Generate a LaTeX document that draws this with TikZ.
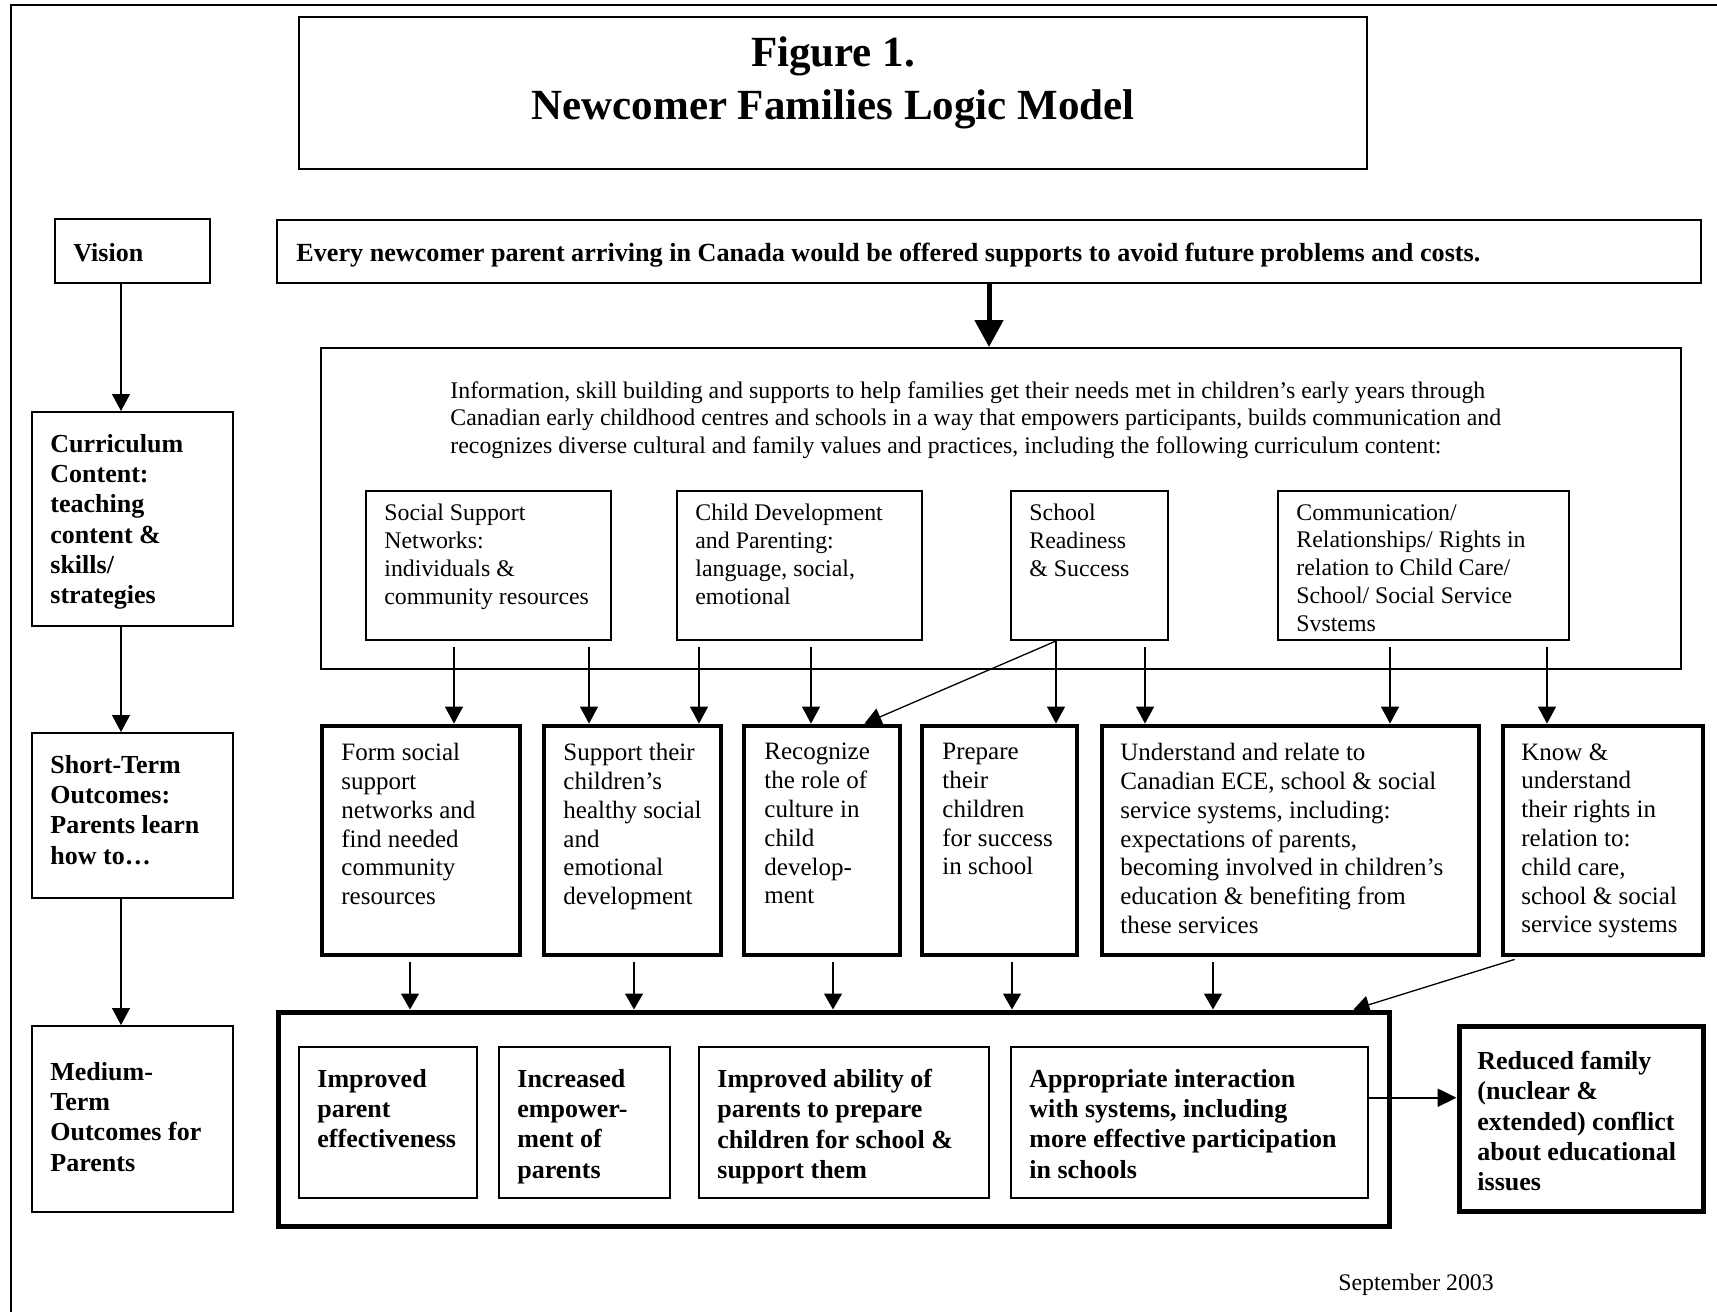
\documentclass[tikz,border=0pt]{standalone}
\usepackage{fontspec}
\setmainfont{Liberation Serif}
\usetikzlibrary{arrows.meta,fit,calc}
\begin{document}
\begin{tikzpicture}[x=0.5pt,y=-0.5pt,
  thinbox/.style={draw, line width=1pt, inner sep=0pt},
  thickbox/.style={draw, line width=2.4pt, inner sep=0pt},
  arr/.style={line width=0.65pt, -{Triangle[length=8.5pt,width=9pt]}},
  arrs/.style={line width=0.65pt, -{Triangle[length=8pt,width=9pt]}},
  bigarr/.style={line width=2.5pt, -{Triangle[length=13.5pt,width=14pt]}},
  midarr/.style={line width=1.2pt, -{Triangle[length=9.5pt,width=9pt]}},
  txt/.style={inner sep=0pt, anchor=north west, align=left, font=\fontsize{11.92}{13.9}\selectfont},
  sttxt/.style={inner sep=0pt, anchor=north west, align=left, font=\fontsize{12.5}{14.4}\selectfont},
  lbl/.style={inner sep=0pt, anchor=north west, align=left, font=\bfseries\fontsize{13}{15.1}\selectfont},
  titletxt/.style={inner sep=0pt, anchor=north, align=center, font=\bfseries\fontsize{21.5}{26.8}\selectfont}
]
\useasboundingbox (0,0) rectangle (1717,1312);
% outer frame
\draw[line width=1.3pt] (11,1312) -- (11,5) -- (1717,5);

% title
\node[thinbox, fit={(299,17)(1367,169)}] (title) {};
\node[titletxt] (tt) at (833,36) {Figure 1.\\Newcomer Families Logic Model};

% left column
\node[thinbox, fit={(55,219)(210,283)}] (vis) {};
\node[lbl] (vist) at (73,243) {Vision};
\node[thinbox, fit={(32,412)(233,626)}] (curl) {};
\node[lbl] (curlt) at (50,434) {Curriculum\\Content:\\teaching\\content \&\\skills/\\strategies};
\node[thinbox, fit={(32,733)(233,898)}] (stl) {};
\node[lbl] (stlt) at (50,755) {Short-Term\\Outcomes:\\Parents learn\\how to…};
\node[thinbox, fit={(32,1026)(233,1212)}] (mel) {};
\node[lbl] (melt) at (50,1062) {Medium-\\Term\\Outcomes for\\Parents};
\coordinate (lx) at (121,0);
\draw[arr] (vis.south -| lx) -- (curl.north -| lx);
\draw[arr] (curl.south -| lx) -- (stl.north -| lx);
\draw[arr] (stl.south -| lx) -- (mel.north -| lx);

% vision statement
\node[thinbox, fit={(277,220)(1701,283)}] (stm) {};
\node[lbl, font=\bfseries\fontsize{13.08}{15.1}\selectfont] (stmt) at (296,243) {Every newcomer parent arriving in Canada would be offered supports to avoid future problems and costs.};

% curriculum
\node[thinbox, fit={(321,348)(1681,669)}] (cur) {};
\draw[bigarr] (stm.south -| 989,0) -- (cur.north -| 989,0);
\node[txt] (intro) at (450,381) {Information, skill building and supports to help families get their needs met in children’s early years through\\Canadian early childhood centres and schools in a way that empowers participants, builds communication and\\recognizes diverse cultural and family values and practices, including the following curriculum content:};

\node[thinbox, fit={(366,491)(611,640)}] (ss) {};
\node[txt] (sst) at (384,504) {Social Support\\Networks:\\individuals \&\\community resources};
\node[thinbox, fit={(677,491)(922,640)}] (cd) {};
\node[txt] (cdt) at (695,504) {Child Development\\and Parenting:\\language, social,\\emotional};
\node[thinbox, fit={(1011,491)(1168,640)}] (sr) {};
\node[txt] (srt) at (1029,504) {School\\Readiness\\\& Success};
\node[thinbox, fit={(1278,491)(1569,640)}] (cm) {};
\node[txt] (cmt) at (1296,504) {Communication/\\Relationships/ Rights in\\relation to Child Care/\\School/ Social Service\\Svstems};

% short-term outcomes
\node[thickbox, fit={(322,726)(520,955)}] (s1) {};
\node[sttxt] (s1t) at (341,743) {Form social\\support\\networks and\\find needed\\community\\resources};
\node[thickbox, fit={(544,726)(721,955)}] (s2) {};
\node[sttxt] (s2t) at (563,743) {Support their\\children’s\\healthy social\\and\\emotional\\development};
\node[thickbox, fit={(744,726)(900,955)}] (s3) {};
\node[sttxt] (s3t) at (764,743) {Recognize\\the role of\\culture in\\child\\develop-\\ment};
\node[thickbox, fit={(922,726)(1077,955)}] (s4) {};
\node[sttxt] (s4t) at (942,743) {Prepare\\their\\children\\for success\\in school};
\node[thickbox, fit={(1102,726)(1479,955)}] (s5) {};
\node[sttxt] (s5t) at (1120,743) {Understand and relate to\\Canadian ECE, school \& social\\service systems, including:\\expectations of parents,\\becoming involved in children’s\\education \& benefiting from\\these services};
\node[thickbox, fit={(1503,726)(1703,955)}] (s6) {};
\node[sttxt] (s6t) at (1521,743) {Know \&\\understand\\their rights in\\relation to:\\child care,\\school \& social\\service systems};

% curriculum -> short-term
\coordinate (c1) at (454,647);
\coordinate (c2) at (589,647);
\coordinate (c3) at (699,647);
\coordinate (c4) at (811,647);
\coordinate (c6) at (1145,647);
\coordinate (c7) at (1390,647);
\coordinate (c8) at (1547,647);
\draw[arr] (c1) -- (c1 |- s1.north);
\draw[arr] (c2) -- (c2 |- s2.north);
\draw[arr] (c3) -- (c3 |- s2.north);
\draw[arr] (c4) -- (c4 |- s3.north);
\coordinate (c5) at (sr.south -| 1056,0);
\draw[arr] (c5) -- (c5 |- s4.north);
\draw[arr] (c5) -- ($(s3.north east)+(-38,0)$);
\draw[arr] (c6) -- (c6 |- s5.north);
\draw[arr] (c7) -- (c7 |- s5.north);
\draw[arr] (c8) -- (c8 |- s6.north);

% medium-term outcomes
\node[thickbox, line width=2.5pt, fit={(278,1012)(1389,1226)}] (med) {};
\node[thinbox, fit={(299,1047)(477,1198)}] (m1) {};
\node[lbl] (m1t) at (317,1069) {Improved\\parent\\effectiveness};
\node[thinbox, fit={(499,1047)(670,1198)}] (m2) {};
\node[lbl] (m2t) at (517,1069) {Increased\\empower-\\ment of\\parents};
\node[thinbox, fit={(699,1047)(989,1198)}] (m3) {};
\node[lbl] (m3t) at (717,1069) {Improved ability of\\parents to prepare\\children for school \&\\support them};
\node[thinbox, fit={(1011,1047)(1368,1198)}] (m4) {};
\node[lbl] (m4t) at (1029,1069) {Appropriate interaction\\with systems, including\\more effective participation\\in schools};

% short-term -> medium
\coordinate (d1) at (410,962);
\coordinate (d2) at (634,962);
\coordinate (d3) at (833,962);
\coordinate (d4) at (1012,962);
\coordinate (d5) at (1213,962);
\draw[arrs] (d1) -- (d1 |- med.north);
\draw[arrs] (d2) -- (d2 |- med.north);
\draw[arrs] (d3) -- (d3 |- med.north);
\draw[arrs] (d4) -- (d4 |- med.north);
\draw[arrs] (d5) -- (d5 |- med.north);
\draw[arrs] ($(s6.south west)+(14,2)$) -- ($(med.north east)+(-38,0)$);

% reduced conflict
\node[thickbox, line width=2.5pt, fit={(1459,1026)(1703,1211)}] (red) {};
\node[lbl] (redt) at (1477,1051) {Reduced family\\(nuclear \&\\extended) conflict\\about educational\\issues};
\coordinate (mr) at ($(m4.north east)!0.338!(m4.south east)$);
\draw[midarr] (mr) -- (mr -| red.west);

% date
\node[inner sep=0pt, anchor=west, font=\fontsize{11.9}{13.9}\selectfont] (date) at (1338,1285) {September 2003};
\end{tikzpicture}
\end{document}
